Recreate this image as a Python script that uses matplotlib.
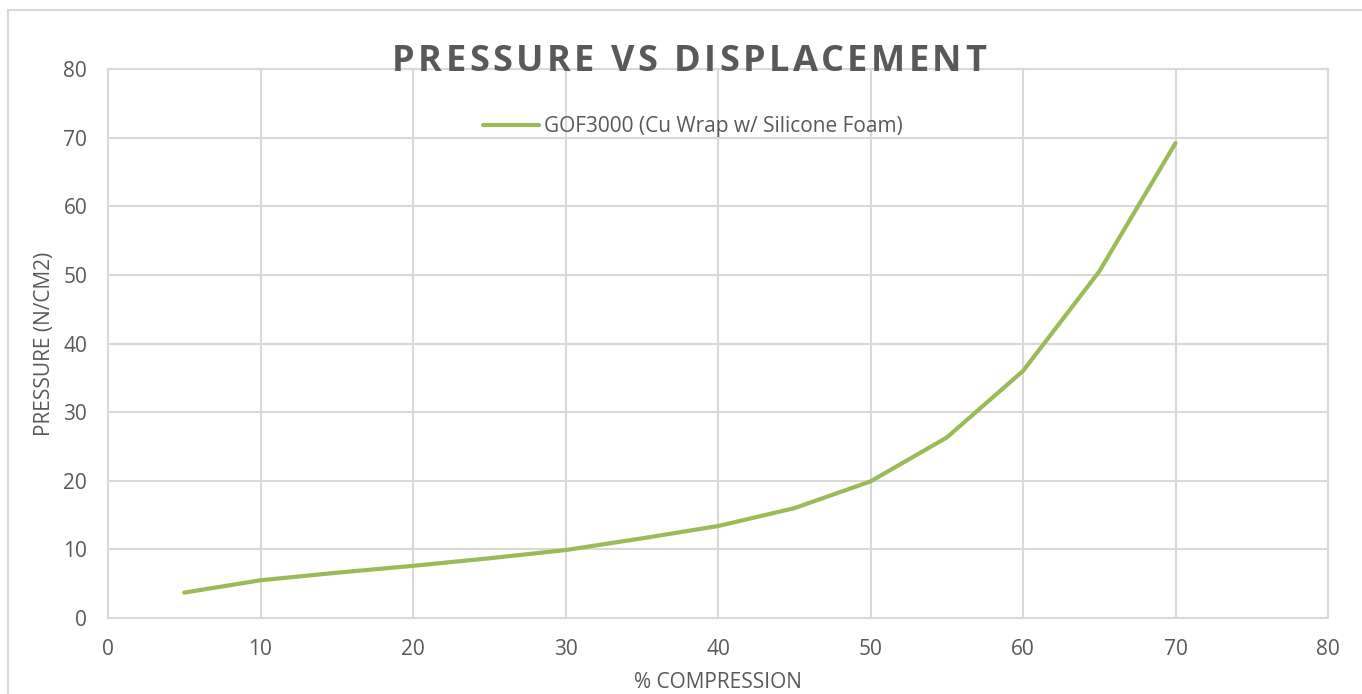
import matplotlib
matplotlib.use("Agg")
import matplotlib.pyplot as plt
from matplotlib.patches import Rectangle

# compression (%) vs pressure (N/cm2)
compression = [5, 10, 15, 20, 25, 30, 35, 40, 45, 50, 55, 60, 65, 70]
pressure = [3.7, 5.5, 6.6, 7.6, 8.7, 9.9, 11.6, 13.4, 16.0, 19.9, 26.3, 36.0, 50.5, 69.2]
series_name = "GOF3000 (Cu Wrap w/ Silicone Foam)"
title = "PRESSURE VS DISPLACEMENT"

x_ticks = list(range(0, 81, 10))
y_ticks = list(range(0, 81, 10))

txt = "#595959"
grid = "#d9d9d9"
green = "#9bbb59"

plt.rcParams["font.family"] = ["Open Sans", "DejaVu Sans"]

W, H = 1362, 694
fig = plt.figure(figsize=(W / 100, H / 100), dpi=100)
ax = fig.add_axes([108 / W, 1 - 618 / H, 1220 / W, 549 / H])

ax.plot(compression, pressure, color=green, lw=3, solid_capstyle="round",
        label=series_name)

ax.set_xlim(0, 80)
ax.set_ylim(0, 80)
ax.set_xticks(x_ticks)
ax.set_yticks(y_ticks)
ax.grid(True, color=grid, lw=1.5)
ax.set_axisbelow(True)
for s in ax.spines.values():
    s.set_color(grid)
    s.set_linewidth(1.5)
ax.tick_params(length=0, labelsize=15, colors=txt)
ax.tick_params(axis="x", pad=15)
ax.tick_params(axis="y", pad=15)

ax.set_xlabel("% COMPRESSION", fontsize=15, color=txt, labelpad=9)
ax.set_ylabel("PRESSURE (N/CM2)", fontsize=15, color=txt, labelpad=6)

# title with extra letter spacing, placed one character at a time
renderer = fig.canvas.get_renderer()
title_size = 26
spacing = 3.5  # px between characters
probe = fig.text(0, 0, "", fontsize=title_size, fontweight="bold")
widths = []
for i in range(len(title) + 1):
    probe.set_text(title[:i] + "|")
    w = probe.get_window_extent(renderer).width
    probe.set_text("|")
    widths.append(w - probe.get_window_extent(renderer).width)
probe.remove()
total = widths[-1] + spacing * (len(title) - 1)
x0 = 689 - total / 2
for i, ch in enumerate(title):
    if ch == " ":
        continue
    fig.text((x0 + widths[i] + spacing * i) / W, 1 - 71 / H, ch,
             ha="left", va="baseline", fontsize=title_size,
             fontweight="bold", color=txt)

leg = ax.legend(loc="center", bbox_to_anchor=(0.4795, 0.895), frameon=False,
                fontsize=15, handlelength=2.65, handletextpad=0.25)
for t in leg.get_texts():
    t.set_color(txt)

# chart area border
fig.patches.append(Rectangle((8 / W, -0.1), 1.2, 1 - 10 / H + 0.1,
                             transform=fig.transFigure, fill=False,
                             edgecolor=grid, lw=1.5))

fig.savefig("out.png", dpi=100)
